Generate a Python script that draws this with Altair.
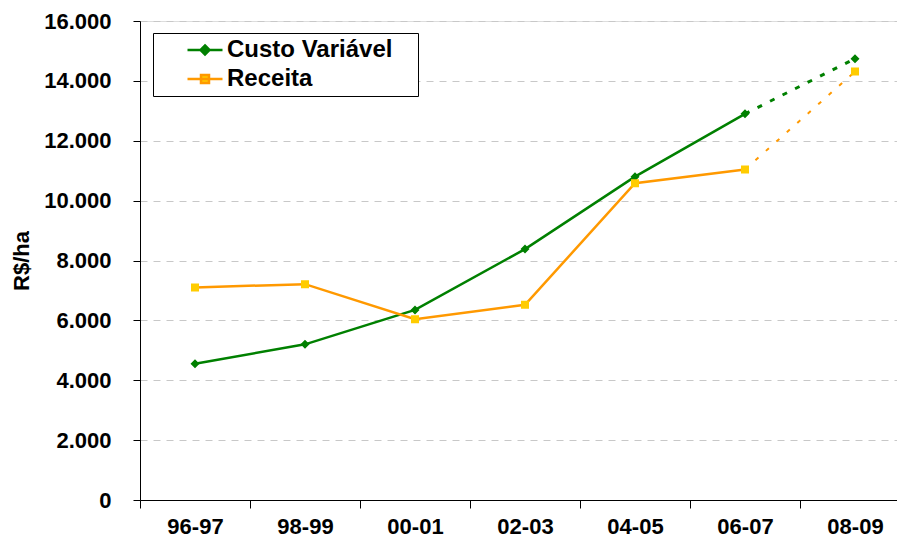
import altair as alt
import pandas as pd

safras = ["96-97", "98-99", "00-01", "02-03", "04-05", "06-07", "08-09"]
custo_variavel = [4550, 5200, 6350, 8380, 10800, 12900, 14740]
receita = [7100, 7210, 6040, 6520, 10580, 11040, 14310]
series_names = ["Custo Variável", "Receita"]
line_colors = ["#008000", "#FF9900"]
marker_colors = ["#008000", "#FFCC00"]
y_ticks = [0, 2000, 4000, 6000, 8000, 10000, 12000, 14000, 16000]

rows = []
for nome, vals in zip(series_names, [custo_variavel, receita]):
    for i, (s, v) in enumerate(zip(safras, vals)):
        rows.append({"safra": s, "serie": nome, "valor": v, "idx": i})
df = pd.DataFrame(rows)
n = len(safras)
solid = df[df.idx <= n - 2]
dashed = df[df.idx >= n - 2]

FONT = "Liberation Sans"
DIAMOND = "M-1.75,0H1.75M0,-0.45L0.45,0L0,0.45L-0.45,0Z"
SQUARE = "M-1.75,0H1.75M-0.4,-0.4H0.4V0.4H-0.4Z"

legend = alt.Legend(
    title=None, orient="none", legendX=13, legendY=12, padding=5,
    strokeColor="black", fillColor="white", symbolSize=400,
    symbolOffset=35, labelOffset=10, labelFont=FONT, labelFontSize=24,
    labelFontWeight="bold", labelColor="black", rowPadding=5,
    symbolStrokeWidth=2.5, labelLimit=400,
    labelExpr="datum.label + '   \u200b'",
)

x = alt.X(
    "safra:N", sort=safras,
    scale=alt.Scale(type="band", paddingInner=0, paddingOuter=0),
    axis=alt.Axis(
        title=None, labelAngle=0, tickBand="extent", tickSize=8,
        labelPadding=8, labelFont=FONT, labelFontSize=22, labelFontWeight="bold",
        labelColor="black", domainColor="black", tickColor="black", grid=False,
    ),
)
y = alt.Y(
    "valor:Q",
    scale=alt.Scale(domain=[0, 16000], nice=False),
    axis=alt.Axis(
        title="R$/ha", values=y_ticks,
        labelExpr="replace(format(datum.value, ','), ',', '.')",
        tickSize=7, labelPadding=22, labelFont=FONT, labelFontSize=22,
        labelFontWeight="bold", labelColor="black", domainColor="black",
        tickColor="black", grid=True, gridDash=[7, 6], gridColor="#C8C8C8",
        titleFont=FONT, titleFontSize=22, titleFontWeight="bold",
        titleColor="black", titlePadding=10,
    ),
)

color_scale = alt.Scale(domain=series_names, range=line_colors)

line_solid = alt.Chart(solid).mark_line(strokeWidth=2.5).encode(
    x=x, y=y, color=alt.Color("serie:N", scale=color_scale, legend=legend)
)
dash_custo = alt.Chart(dashed[dashed.serie == series_names[0]]).mark_line(
    color=line_colors[0], strokeWidth=3, strokeDash=[5, 9]
).encode(x=x, y=y)
dash_receita = alt.Chart(dashed[dashed.serie == series_names[1]]).mark_line(
    color=line_colors[1], strokeWidth=2, strokeDash=[4, 10]
).encode(x=x, y=y)
points = alt.Chart(df).mark_point(filled=True, size=400, opacity=1).encode(
    x=x, y=y,
    fill=alt.Fill("serie:N", scale=alt.Scale(domain=series_names, range=marker_colors), legend=legend),
    shape=alt.Shape("serie:N", scale=alt.Scale(domain=series_names, range=[DIAMOND, SQUARE]), legend=legend),
)

chart = alt.layer(line_solid, dash_custo, dash_receita, points).properties(
    width=770, height=479, autosize="none",
    padding={"left": 132, "top": 13, "right": -13, "bottom": 37},
).configure_view(stroke=None).configure(background="white")

chart.save("out.html", embed_options={"renderer": "svg", "actions": False})
